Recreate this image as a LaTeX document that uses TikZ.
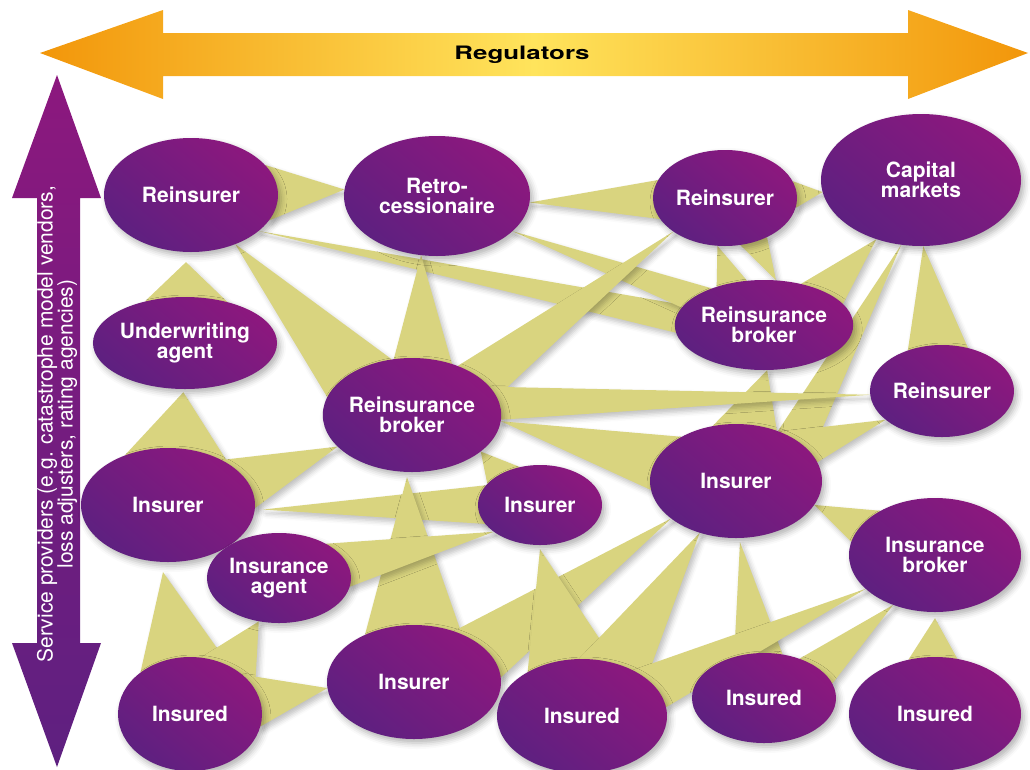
\documentclass[tikz,border=0pt]{standalone}
\usepackage{fontspec}
\setmainfont{TeX Gyre Heros}
\usepackage{graphicx}
\usetikzlibrary{shapes.geometric,shadows.blur}

\definecolor{khaki}{RGB}{217,212,127}
\definecolor{plumtop}{RGB}{140,24,126}
\definecolor{plumbot}{RGB}{94,32,128}
\definecolor{ambr}{RGB}{242,150,10}
\definecolor{lemon}{RGB}{255,228,92}

\pgfdeclarelayer{bg}
\pgfsetlayers{bg,main}

\newcommand{\conn}[4]{\fill[link] #1 -- (#2.#3) -- (#2.#4) -- cycle;}

\begin{document}
\begin{tikzpicture}[
	x=1pt, y=-1pt,
	party/.style={ellipse, inner sep=0pt, align=center, text=white,
		font=\fontsize{21}{20}\selectfont\bfseries,
		top color=plumtop, bottom color=plumbot, shading angle=-40,
		blur shadow={shadow xshift=3pt, shadow yshift=-4pt, shadow blur radius=6pt, shadow opacity=30}},
	ell/.style 2 args={minimum width=#1pt, minimum height=#2pt},
	link/.style={fill=khaki,
		blur shadow={shadow xshift=3pt, shadow yshift=-4pt, shadow blur radius=5pt, shadow opacity=25}}]
\useasboundingbox (0,0) rectangle (1030,769);

\shade[left color=ambr, right color=ambr, middle color=lemon]
	(40,53) -- (163,10) -- (163,33) -- (908,33) -- (908,10) -- (1028,53)
	-- (908,99) -- (908,76) -- (163,76) -- (163,99) -- cycle;
\node (reg) at (522,55) {\scalebox{1.4}[1]{\fontsize{18.5}{20}\selectfont\bfseries Regulators}};

\shade[top color=plumtop, bottom color=plumbot]
	(57,75) -- (101,198) -- (80,198) -- (80,643) -- (101,643) -- (57,767)
	-- (12,643) -- (37,643) -- (37,198) -- (12,198) -- cycle;
\node[rotate=90, align=center, text=white, font=\fontsize{21}{20}\selectfont] (svc) at (57,424)
	{Service providers (e.g. catastrophe model vendors,\\ loss adjusters, rating agencies)};

\node[party, ell={174}{114}] (ri1) at (191,195) {Reinsurer};
\node[party, ell={186}{120}] (retro) at (437,196) {Retro-\\cessionaire};
\node[party, ell={144}{96}] (ri2) at (725,198) {Reinsurer};
\node[party, ell={200}{132}] (cap) at (921,180) {Capital\\markets};
\node[party, ell={176}{90}] (rb2) at (764,325) {Reinsurance\\broker};
\node[party, ell={144}{92}] (ri3) at (942,391) {Reinsurer};
\node[party, ell={174}{92}] (uwa) at (185,343) {Underwriting\\agent};
\node[party, ell={174}{114}] (rb1) at (412,415) {Reinsurance\\broker};
\node[party, ell={174}{114}] (ins1) at (168,505) {Insurer};
\node[party, ell={144}{90}] (ia) at (279,578) {Insurance\\agent};
\node[party, ell={124}{80}] (ins2) at (540,505) {Insurer};
\node[party, ell={172}{114}] (ins3) at (736,481) {Insurer};
\node[party, ell={172}{114}] (ib) at (935,555) {Insurance\\broker};
\node[party, ell={144}{114}] (isd1) at (190,714) {Insured};
\node[party, ell={174}{114}] (ins4) at (414,682) {Insurer};
\node[party, ell={170}{114}] (isd2) at (582,716) {Insured};
\node[party, ell={144}{90}] (isd3) at (764,698) {Insured};
\node[party, ell={172}{114}] (isd4) at (935,714) {Insured};

\begin{pgfonlayer}{bg}
\conn{(retro.176)}{ri1}{22}{-18}
\conn{(ri1.-28)}{rb2}{166}{185}
\conn{(retro.-25)}{rb2}{145}{168}
\conn{([yshift=-10pt]ri1.265)}{uwa}{134}{44}
\conn{(ri1.-48)}{rb1}{110}{168}
\conn{(retro.255)}{rb1}{52}{108}
\conn{(ri2.213)}{rb1}{12}{47}
\conn{(retro.-4)}{ri2}{165}{198}
\conn{(cap.187)}{ri2}{14}{-8}
\conn{(ri2.261)}{rb2}{111}{141}
\conn{(rb2.75)}{ri2}{288}{317}
\conn{(cap.233)}{rb2}{15}{48}
\conn{(cap.253)}{ins3}{20}{50}
\conn{(cap.272)}{ri3}{59}{130}
\conn{(rb2.274)}{ins3}{51}{113}
\conn{(ri3.183)}{rb1}{-3}{20}
\conn{(ri3.207)}{ins3}{13}{48}
\conn{(rb1.-4)}{ins3}{141}{186}
\conn{([yshift=-3pt]uwa.268)}{ins1}{34}{131}
\conn{(rb1.203)}{ins1}{-2}{40}
\conn{([xshift=8pt]ins1.-3)}{ins2}{160}{199}
\conn{([yshift=-5pt]rb1.265)}{ins4}{45}{136}
\conn{(ins2.210)}{ia}{-7}{36}
\conn{([yshift=-10pt]ins1.265)}{isd1}{50}{140}
\conn{(ia.245)}{isd1}{21}{79}
\conn{(ins4.184)}{isd1}{-10}{37}
\conn{(ins3.210)}{ins4}{3}{52}
\conn{([yshift=-4pt]ins2.270)}{isd2}{57}{141}
\conn{(ins3.235)}{isd2}{30}{93}
\conn{([yshift=-4pt]ins3.274)}{isd3}{67}{126}
\conn{(ib.206)}{isd2}{6}{42}
\conn{(ib.230)}{isd3}{12}{48}
\conn{([yshift=-6pt]ib.270)}{isd4}{68}{116}
\conn{(ins3.-17)}{ib}{141}{171}
\conn{(rb1.-28)}{ins2}{118}{158}
\end{pgfonlayer}
\end{tikzpicture}
\end{document}
